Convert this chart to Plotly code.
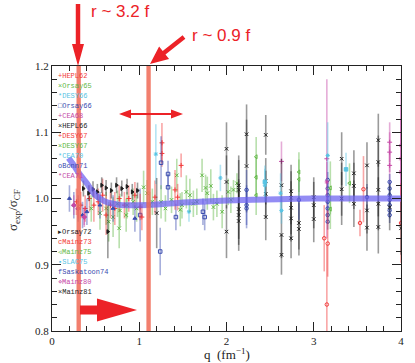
import math
import plotly.graph_objects as go

# ---------------- data ----------------
# fitted ratio curve (thick blue line)
curve_q = [0.19, 0.25, 0.30, 0.35, 0.40, 0.45, 0.50, 0.60, 0.70, 0.80, 1.00, 1.20, 1.50, 2.00, 2.60, 3.00, 3.50, 4.00]
curve_r = [1.061, 1.050, 1.040, 1.031, 1.023, 1.013, 1.005, 0.996, 0.992, 0.990, 0.990, 0.991, 0.994, 0.997, 0.999, 1.000, 1.000, 1.000]

hepl62_q = [1.26, 1.26, 1.48, 0.95, 1.18]
hepl62_r = [1.084, 1.068, 1.050, 1.005, 1.002]
hepl62_e = [0.030, 0.020, 0.018, 0.020, 0.025]

orsay65_q = [0.62, 0.70, 0.78, 0.86, 0.93, 1.05, 1.09, 1.15, 1.37, 1.43, 1.47, 1.49, 1.54, 1.62, 1.72, 1.76, 1.82, 1.85, 1.89, 1.95, 2.02, 2.08, 2.12]
orsay65_r = [0.985, 0.972, 0.982, 0.990, 0.995, 1.017, 1.008, 0.995, 0.998, 1.035, 0.983, 0.990, 1.010, 0.992, 1.035, 1.016, 1.019, 0.987, 0.992, 0.980, 1.010, 1.013, 1.023]
orsay65_e = [0.025, 0.030, 0.025, 0.020, 0.020, 0.025, 0.020, 0.020, 0.020, 0.025, 0.025, 0.020, 0.025, 0.020, 0.025, 0.020, 0.025, 0.020, 0.020, 0.025, 0.020, 0.015, 0.015]

desy66_q = [1.19, 1.57, 1.93]
desy66_r = [1.067, 0.980, 1.031]
desy66_e = [0.045, 0.015, 0.020]

orsay66_q = [1.25, 1.33, 1.33, 1.24, 1.42, 1.73, 1.75, 1.01]
orsay66_r = [1.054, 1.037, 1.017, 0.920, 0.972, 0.980, 0.972, 0.975]
orsay66_e = [0.040, 0.020, 0.020, 0.036, 0.020, 0.020, 0.020, 0.040]

cea68_q = [2.63, 3.87, 3.87, 3.87, 3.15, 0.37]
cea68_r = [1.056, 1.085, 1.070, 1.050, 1.060, 0.972]
cea68_e = [0.030, 0.030, 0.030, 0.030, 0.120, 0.012]

hepl66_q = [1.20, 2.00, 2.00, 2.00, 2.14, 2.14, 2.14, 2.14, 2.14, 2.23, 2.23, 2.45, 2.45, 2.45, 2.45, 2.63, 2.63, 2.63, 2.74, 2.74, 2.74, 2.74, 2.74, 2.83, 2.83, 3.00, 3.00, 3.00]
hepl66_r = [0.978, 1.075, 1.025, 0.950, 1.020, 1.013, 0.984, 0.975, 0.966, 1.097, 1.049, 1.096, 1.026, 1.007, 0.972, 1.020, 0.945, 0.915, 1.011, 1.001, 0.986, 0.970, 0.940, 0.963, 0.954, 1.002, 0.990, 0.969]
hepl66_e = [0.053, 0.040, 0.040, 0.040, 0.045, 0.045, 0.045, 0.045, 0.045, 0.045, 0.070, 0.030, 0.035, 0.035, 0.035, 0.040, 0.035, 0.030, 0.040, 0.040, 0.040, 0.035, 0.030, 0.040, 0.040, 0.030, 0.035, 0.035]

desy67r_q = [0.28, 0.33, 0.38, 0.43, 0.48, 0.53, 0.58, 0.62, 0.67, 0.72, 0.77, 0.83, 0.88, 1.01, 1.03, 1.41, 1.44]
desy67r_r = [0.995, 0.990, 0.985, 1.000, 0.990, 0.995, 1.005, 0.975, 0.990, 0.985, 1.000, 0.990, 1.000, 0.987, 0.972, 1.013, 1.002]
desy67r_e = [0.020, 0.020, 0.020, 0.020, 0.025, 0.020, 0.025, 0.030, 0.020, 0.025, 0.020, 0.020, 0.020, 0.020, 0.020, 0.030, 0.020]

desy67g_q = [0.45, 0.55, 0.65, 0.75, 0.77, 0.85, 0.97, 1.12, 1.25, 1.30, 1.58, 1.66, 1.78, 2.05]
desy67g_r = [0.985, 0.978, 0.965, 0.992, 0.955, 0.975, 0.985, 0.990, 0.995, 0.985, 1.005, 0.995, 1.008, 0.998]
desy67g_e = [0.020, 0.025, 0.030, 0.020, 0.030, 0.025, 0.020, 0.020, 0.025, 0.020, 0.025, 0.020, 0.025, 0.020]

cea70_q = [2.62, 2.63, 3.16, 2.44]
cea70_r = [1.008, 0.982, 1.065, 1.020]
cea70_e = [0.030, 0.020, 0.050, 0.025]

bonn71_q = [3.16, 3.16, 3.16, 3.16, 3.16, 3.16, 3.16, 3.87, 3.87, 3.87, 3.87, 3.87, 3.87, 3.87, 2.23, 2.23, 2.23, 2.83, 3.61]
bonn71_r = [1.028, 1.015, 1.005, 0.995, 0.985, 0.975, 0.965, 1.025, 1.015, 1.005, 0.998, 0.990, 0.982, 0.975, 1.013, 0.990, 0.985, 0.998, 1.002]
bonn71_e = [0.012, 0.012, 0.012, 0.012, 0.012, 0.012, 0.012, 0.012, 0.012, 0.012, 0.012, 0.012, 0.012, 0.012, 0.030, 0.030, 0.030, 0.030, 0.020]

cea71_q = [3.15, 4.00, 4.00, 4.00]
cea71_r = [1.025, 1.080, 1.060, 1.040]
cea71_e = [0.030, 0.080, 0.080, 0.080]

orsay72_q = [0.36, 0.42, 0.47, 0.52, 0.57, 0.62, 0.68, 0.74, 0.80, 0.86, 0.92, 0.98, 0.64]
orsay72_r = [1.015, 1.008, 1.014, 1.010, 1.020, 1.016, 1.012, 1.020, 1.015, 1.018, 1.010, 1.012, 0.950]
orsay72_e = [0.012, 0.012, 0.012, 0.012, 0.012, 0.012, 0.012, 0.012, 0.012, 0.012, 0.012, 0.012, 0.040]

mainz73_q = [3.12, 3.16, 3.15, 3.53, 3.57, 4.00]
mainz73_r = [0.940, 0.932, 0.840, 0.963, 1.014, 0.963]
mainz73_e = [0.050, 0.050, 0.090, 0.020, 0.050, 0.060]

mainz75_q = [3.19, 3.19, 3.41, 2.34, 2.34, 2.34, 2.83, 2.83]
mainz75_r = [1.016, 0.984, 1.023, 1.063, 1.032, 1.005, 1.040, 1.029]
mainz75_e = [0.040, 0.030, 0.030, 0.030, 0.030, 0.030, 0.030, 0.030]

slac75_q = [3.37, 2.44]
slac75_r = [1.044, 1.025]
slac75_e = [0.025, 0.025]

sask74_q = [0.20, 0.25, 0.30, 0.35, 0.40, 0.55, 0.70, 0.95]
sask74_r = [1.000, 0.990, 0.985, 0.975, 0.980, 0.990, 0.985, 0.970]
sask74_e = [0.020, 0.020, 0.020, 0.020, 0.020, 0.020, 0.020, 0.020]

mainz80_q = [0.25, 0.30, 0.37]
mainz80_r = [0.990, 0.985, 0.972]
mainz80_e = [0.015, 0.015, 0.015]

mainz81_q = [3.32, 3.32, 3.32, 3.46, 3.46, 3.46, 3.61, 3.61, 3.61, 3.74, 3.74, 3.74, 3.74, 3.74, 3.87, 4.00]
mainz81_r = [1.060, 1.014, 1.000, 1.038, 1.019, 0.992, 1.050, 0.982, 0.956, 1.088, 1.055, 1.013, 0.992, 0.957, 0.987, 0.955]
mainz81_e = [0.040, 0.040, 0.040, 0.035, 0.035, 0.035, 0.035, 0.035, 0.035, 0.040, 0.040, 0.040, 0.040, 0.040, 0.035, 0.040]

band_q = [0.306, 1.107]   # the two highlighted q values

RED, GREEN, CYAN, BLUE, MAG, BLACK = "#f23a3a", "#62b846", "#58c4e4", "#3a4caf", "#c548a6", "#1e1e1e"

# name, q, r, err, colour, plotly symbol, legend glyph
top_block = [
    ("HEPL62", hepl62_q, hepl62_r, hepl62_e, RED, "cross-thin-open", "+"),
    ("Orsay65", orsay65_q, orsay65_r, orsay65_e, GREEN, "x-thin-open", "×"),
    ("DESY66", desy66_q, desy66_r, desy66_e, CYAN, "asterisk-open", "*"),
    ("Orsay66", orsay66_q, orsay66_r, orsay66_e, BLUE, "square-open", "□"),
    ("CEA68", cea68_q, cea68_r, cea68_e, MAG, "cross-thin-open", "+"),
    ("HEPL66", hepl66_q, hepl66_r, hepl66_e, BLACK, "x-thin-open", "×"),
    ("DESY67", desy67r_q, desy67r_r, desy67r_e, RED, "cross-thin-open", "+"),
    ("DESY67", desy67g_q, desy67g_r, desy67g_e, GREEN, "x-thin-open", "×"),
    ("CEA70", cea70_q, cea70_r, cea70_e, CYAN, "asterisk-open", "*"),
    ("Bonn71", bonn71_q, bonn71_r, bonn71_e, BLUE, "circle-open", "o"),
    ("CEA71", cea71_q, cea71_r, cea71_e, MAG, "asterisk-open", "*"),
]
bottom_block = [
    ("Orsay72", orsay72_q, orsay72_r, orsay72_e, BLACK, "triangle-right", "▸"),
    ("Mainz73", mainz73_q, mainz73_r, mainz73_e, RED, "circle-open", "c"),
    ("Mainz75", mainz75_q, mainz75_r, mainz75_e, GREEN, "triangle-left-open", "◃"),
    ("SLAC75", slac75_q, slac75_r, slac75_e, CYAN, "square", "▪"),
    ("Saskatoon74", sask74_q, sask74_r, sask74_e, BLUE, "triangle-up", "f"),
    ("Mainz80", mainz80_q, mainz80_r, mainz80_e, MAG, "diamond", "⋄"),
    ("Mainz81", mainz81_q, mainz81_r, mainz81_e, BLACK, "x-thin-open", "×"),
]


def rgba(hexcol, a):
    h = hexcol.lstrip("#")
    return "rgba(%d,%d,%d,%.2f)" % (int(h[0:2], 16), int(h[2:4], 16), int(h[4:6], 16), a)


W, H = 415, 363
L, R, T, B = 52, 14, 66, 32
PW, PH = W - L - R, H - T - B


def to_paper(px, py):
    return (px - L) / PW, (H - B - py) / PH


def arrow_path(x0, y0, x1, y1, shaft, head_w, head_len, both=False):
    # polygon in pixel space, converted to paper coordinates
    dx, dy = x1 - x0, y1 - y0
    n = math.hypot(dx, dy)
    ux, uy = dx / n, dy / n
    vx, vy = -uy, ux

    def P(s, t):
        return (x0 + ux * s + vx * t, y0 + uy * s + vy * t)
    s0 = head_len if both else 0
    s1 = n - head_len
    pts = []
    if both:
        pts += [P(0, 0), P(head_len, head_w / 2)]
    pts += [P(s0, shaft / 2), P(s1, shaft / 2), P(s1, head_w / 2), P(n, 0),
            P(s1, -head_w / 2), P(s1, -shaft / 2), P(s0, -shaft / 2)]
    if both:
        pts += [P(head_len, -head_w / 2)]
    pp = [to_paper(*p) for p in pts]
    return "M " + " L ".join("%.4f,%.4f" % p for p in pp) + " Z"


fig = go.Figure()

for name, q, r, e, col, sym, glyph in top_block + bottom_block:
    fig.add_trace(go.Scatter(
        x=q, y=r, mode="markers", name=name, showlegend=False,
        marker=dict(symbol=sym, size=3.5, color=col, line=dict(color=col, width=1)),
        error_y=dict(type="data", array=e, color=rgba(col, 0.45), thickness=1.6, width=0),
    ))

# thick ratio curve
fig.add_trace(go.Scatter(
    x=curve_q, y=curve_r, mode="lines", showlegend=False,
    line=dict(color="rgba(105,95,240,0.72)", width=6, shape="spline", smoothing=0.6),
))

shapes = []
for qb in band_q:
    shapes.append(dict(type="rect", xref="x", yref="y", x0=qb - 0.025, x1=qb + 0.025,
                       y0=0.8, y1=1.2, fillcolor="rgba(240,105,85,0.85)", line_width=0, layer="above"))

ARROW = "#ec2227"
arrows = [
    arrow_path(78, 4, 78, 66, 4.5, 12, 22),
    arrow_path(184, 37, 150, 64, 4.5, 16, 18),
    arrow_path(119, 114, 183, 114, 2, 9, 12, both=True),
    arrow_path(80, 310, 137, 310, 9, 23, 40),
]
for p in arrows:
    shapes.append(dict(type="path", xref="paper", yref="paper", path=p,
                       fillcolor=ARROW, line_width=0, layer="above"))

title_font = dict(family="Liberation Serif", size=13, color="#222")
annotations = [
    dict(text="r ~ 3.2 f", x=to_paper(89, 11)[0], y=to_paper(89, 11)[1], xref="paper", yref="paper",
         xanchor="left", yanchor="middle", showarrow=False,
         font=dict(family="Liberation Sans", size=17, color=ARROW)),
    dict(text="r ~ 0.9 f", x=to_paper(190, 35)[0], y=to_paper(190, 35)[1], xref="paper", yref="paper",
         xanchor="left", yanchor="middle", showarrow=False,
         font=dict(family="Liberation Sans", size=17, color=ARROW)),
    # axis titles
    dict(text="q  (fm<sup>−1</sup>)", x=to_paper(227, 354)[0], y=to_paper(227, 354)[1],
         xref="paper", yref="paper", xanchor="center", yanchor="middle", showarrow=False, font=title_font),
    dict(text="σ<sub>exp</sub>/σ<sub>CF</sub>", x=to_paper(13, 210)[0], y=to_paper(13, 210)[1],
         xref="paper", yref="paper", xanchor="center", yanchor="middle", showarrow=False,
         textangle=-90, font=title_font),
]
for start, block in ((76, top_block), (232, bottom_block)):
    for i, (name, q, r, e, col, sym, glyph) in enumerate(block):
        x, y = to_paper(56, start + 10 * i)
        annotations.append(dict(text=glyph + name, x=x, y=y, xref="paper", yref="paper",
                                xanchor="left", yanchor="middle", showarrow=False,
                                font=dict(family="Liberation Mono", size=7, color=col)))

axis_font = dict(family="Liberation Serif", size=11, color="#222")
fig.update_layout(
    width=W, height=H, margin=dict(l=L, r=R, t=T, b=B),
    paper_bgcolor="white", plot_bgcolor="white",
    shapes=shapes, annotations=annotations,
    xaxis=dict(range=[0, 4], tick0=0, dtick=1, ticks="inside", ticklen=9, tickcolor="#222",
               minor=dict(dtick=0.2, ticks="inside", ticklen=5, tickcolor="#222"),
               showline=True, linecolor="#222", linewidth=1, mirror="ticks",
               showgrid=False, zeroline=False, tickfont=axis_font, automargin=False),
    yaxis=dict(range=[0.8, 1.2], tick0=0.8, dtick=0.1, tickformat=".1f", ticks="inside", ticklen=9,
               tickcolor="#222",
               minor=dict(dtick=0.02, ticks="inside", ticklen=5, tickcolor="#222"),
               showline=True, linecolor="#222", linewidth=1, mirror="ticks",
               showgrid=False, zeroline=False, tickfont=axis_font, automargin=False),
)

# the page's default body margin would push the 415x363 figure off the window
fig.write_html("out.html", config={"displayModeBar": False},
               post_script="document.body.style.margin='0';")
